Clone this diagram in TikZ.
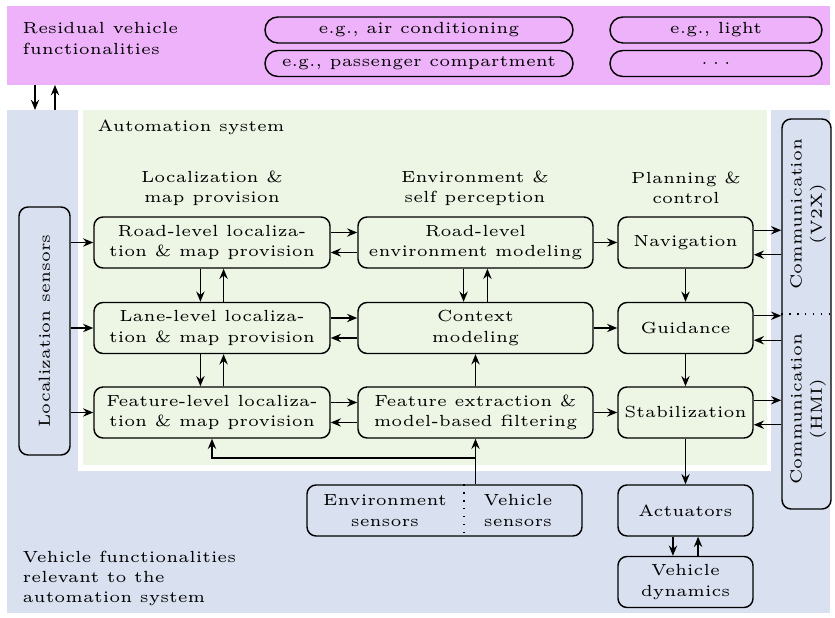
\documentclass[tikz,border=0pt]{standalone}
\usepackage{graphicx}
\usetikzlibrary{arrows.meta}
\definecolor{pinkbg}{RGB}{238,178,250}
\definecolor{bluebg}{RGB}{217,224,240}
\definecolor{greenbg}{RGB}{237,246,229}
\newcommand{\pxu}{0.3105pt}
\begin{document}
\begin{tikzpicture}[x=\pxu,y=-\pxu, line width=0.45pt,
  every node/.style={font=\fontsize{5}{6.3}\selectfont},
  box/.style={draw, rounded corners=2.8pt, fill=greenbg, align=center, inner sep=0pt, minimum height=51*\pxu},
  bbox/.style={box, fill=bluebg},
  pill/.style={draw, rounded corners=4pt, fill=pinkbg, inner sep=0pt, minimum height=26*\pxu},
  arr/.style={-{Stealth[length=3.2pt,width=2.6pt,inset=1.1pt]}},
  lbl/.style={inner sep=0pt, align=left, anchor=north west},
  hdr/.style={inner sep=0pt, align=center}]
\useasboundingbox (0,0) rectangle (835,618);
% backgrounds
\fill[pinkbg] (7,6) rectangle (830,85);
\fill[bluebg] (7,110) rectangle (830,613);
\fill[white] (78,110) rectangle (771,471);
\fill[greenbg] (83,110) rectangle (767,465);
% texts
\node[lbl] (RVF) at (22,22) {Residual vehicle\\functionalities};
\node[lbl] (VFR) at (22,550) {Vehicle functionalities\\relevant to the\\automation system};
\node[inner sep=0pt, anchor=base west] (AS) at (97,132) {Automation system};
\node[hdr] (H1) at (212,188) {Localization \&\\map provision};
\node[hdr] (H2) at (475,188) {Environment \&\\self perception};
\node[hdr] (H3) at (686,188) {Planning \&\\control};
% pills
\node[pill, minimum width=308*\pxu] (P1) at (419,30) {e.g., air conditioning};
\node[pill, minimum width=308*\pxu] (P2) at (419,63.5) {e.g., passenger compartment};
\node[pill, minimum width=212*\pxu] (P3) at (716,30) {e.g., light};
\node[pill, minimum width=212*\pxu] (P4) at (716,63.5) {$\cdots$};
% pink <-> blue arrows
\coordinate (PA) at (35,85);
\coordinate (PB) at (35,110);
\coordinate (PC) at (55,110);
\coordinate (PD) at (55,85);
\draw[arr] (PA) -- (PB);
\draw[arr] (PC) -- (PD);
% main nodes
\node[box, minimum width=236*\pxu] (RL) at (212,242.5) {Road-level localiza-\\tion \& map provision};
\node[box, minimum width=235*\pxu] (RE) at (475.5,242.5) {Road-level\\environment modeling};
\node[box, minimum width=135*\pxu] (NAV) at (685.5,242.5) {Navigation};
\node[box, minimum width=236*\pxu] (LL) at (212,328) {Lane-level localiza-\\tion \& map provision};
\node[box, minimum width=235*\pxu] (CM) at (475.5,328) {Context\\modeling};
\node[box, minimum width=135*\pxu] (GU) at (685.5,328) {Guidance};
\node[box, minimum width=236*\pxu] (FL) at (212,412.5) {Feature-level localiza-\\tion \& map provision};
\node[box, minimum width=235*\pxu] (FE) at (475.5,412.5) {Feature extraction \&\\model-based filtering};
\node[box, minimum width=135*\pxu] (ST) at (685.5,412.5) {Stabilization};
% localization sensors
\node[bbox, minimum width=51*\pxu, minimum height=248*\pxu] (LS) at (44.5,331) {\rotatebox{90}{Localization sensors}};
% communication
\node[bbox, minimum width=49*\pxu, minimum height=390*\pxu] (COMM) at (806.5,314) {};
\draw[dotted] (COMM.west) -- (COMM.east);
\node[hdr, rotate=90] (V2X) at (808,214) {Communication\\(V2X)};
\node[hdr, rotate=90] (HMI) at (808,409) {Communication\\(HMI)};
% sensors
\node[bbox, minimum width=275*\pxu] (SB) at (444.5,510.5) {};
\draw[dotted] ([xshift=19.5*\pxu]SB.north) -- ([xshift=19.5*\pxu]SB.south);
\node[hdr] (ES) at (385,510.5) {Environment\\sensors};
\node[hdr] (VS) at (518,510.5) {Vehicle\\sensors};
% actuators
\node[bbox, minimum width=135*\pxu] (ACT) at (685.5,510.5) {Actuators};
\node[bbox, minimum width=135*\pxu] (VD) at (685.5,582) {Vehicle\\dynamics};
% arrows: localization sensors
\draw[arr] (LS.east |- RL.west) -- (RL.west);
\draw[arr] (LS.east |- LL.west) -- (LL.west);
\draw[arr] (LS.east |- FL.west) -- (FL.west);
% horizontal pairs
\foreach \a/\b in {RL/RE, LL/CM, FL/FE}{
  \draw[arr] ([yshift=3.1pt]\a.east) -- ([yshift=3.1pt]\b.west);
  \draw[arr] ([yshift=-3.1pt]\b.west) -- ([yshift=-3.1pt]\a.east);
}
\draw[arr] (RE) -- (NAV);
\draw[arr] (CM) -- (GU);
\draw[arr] (FE) -- (ST);
\foreach \a in {NAV, GU, ST}{
  \draw[arr] ([yshift=3.8pt]\a.east) -- ([yshift=3.8pt]\a.east -| COMM.west);
  \draw[arr] ([yshift=-3.8pt]\a.east -| COMM.west) -- ([yshift=-3.8pt]\a.east);
}
% vertical pairs
\draw[arr] ([xshift=-3.6pt]RL.south) -- ([xshift=-3.6pt]LL.north);
\draw[arr] ([xshift=3.6pt]LL.north) -- ([xshift=3.6pt]RL.south);
\draw[arr] ([xshift=-3.6pt]LL.south) -- ([xshift=-3.6pt]FL.north);
\draw[arr] ([xshift=3.6pt]FL.north) -- ([xshift=3.6pt]LL.south);
\draw[arr] ([xshift=-3.7pt]RE.south) -- ([xshift=-3.7pt]CM.north);
\draw[arr] ([xshift=3.7pt]CM.north) -- ([xshift=3.7pt]RE.south);
\draw[arr] (FE) -- (CM);
\draw[arr] (NAV) -- (GU);
\draw[arr] (GU) -- (ST);
\draw[arr] (ST) -- (ACT);
\draw[arr] ([xshift=-3.9pt]ACT.south) -- ([xshift=-3.9pt]VD.north);
\draw[arr] ([xshift=3.9pt]VD.north) -- ([xshift=3.9pt]ACT.south);
% sensors to feature processing
\coordinate (J) at (475.5,458);
\draw[arr] (FE.south |- SB.north) -- (FE.south);
\draw[arr] (J) -| (FL.south);
\end{tikzpicture}
\end{document}
